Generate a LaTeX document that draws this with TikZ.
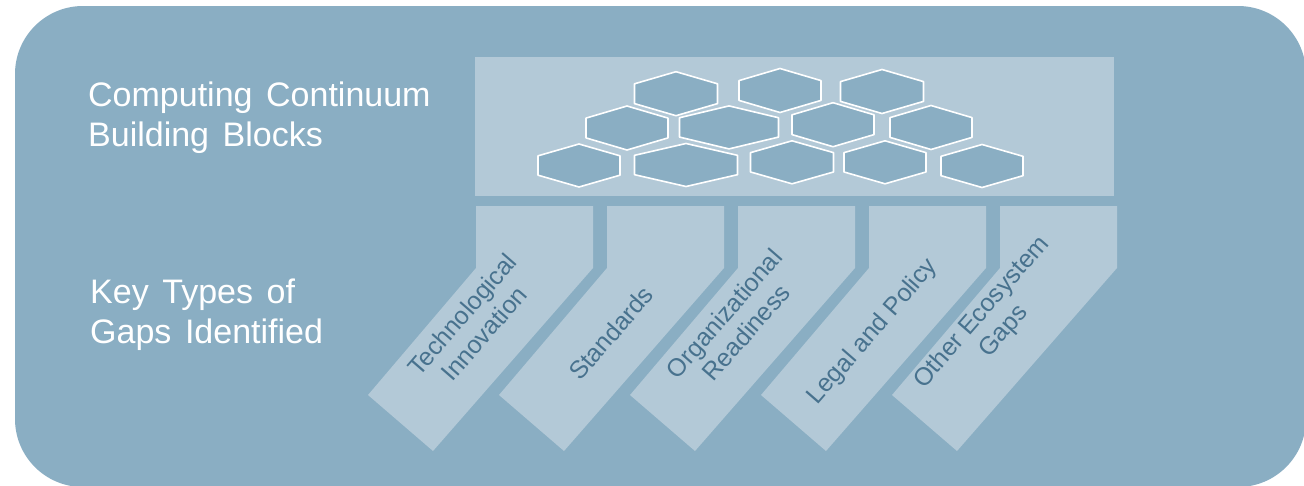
\documentclass[tikz,border=0pt]{standalone}
\usepackage{fontspec}
\setmainfont{Liberation Sans}
\definecolor{outerblue}{RGB}{138,174,195}
\definecolor{lightblue}{RGB}{179,201,215}
\definecolor{textblue}{RGB}{72,114,142}
\newcommand\widesp{\spaceskip=0.4em plus 0.1em\relax}
\newcommand\hexcell[4]{%
  \draw[hexstyle] (#1,{#2-#4/2}) -- ({#1+#3/2},{#2-0.225*#4}) -- ({#1+#3/2},{#2+0.225*#4})
    -- (#1,{#2+#4/2}) -- ({#1-#3/2},{#2+0.225*#4}) -- ({#1-#3/2},{#2-0.225*#4}) -- cycle;}
\begin{document}
\begin{tikzpicture}[x=1pt,y=-1pt,
  hexstyle/.style={fill=outerblue,draw=white,line width=1.6pt,line join=round},
  chev/.style={fill=lightblue},
  lefttext/.style={text=white,font=\fontsize{34}{40}\selectfont\widesp,align=left,inner sep=0,anchor=base west},
  chevtext/.style={text=textblue,font=\fontsize{25}{29}\selectfont,align=center,rotate=49,inner sep=0}]
\useasboundingbox (0,0) rectangle (1304,485);
\fill[white] (0,0) rectangle (1304,485);
\fill[outerblue,rounded corners=68pt] (15,6) rectangle (1306,487);
\node[fill=lightblue,minimum width=639pt,minimum height=139pt,inner sep=0,anchor=north west] (blocks) at (475,57) {};
\hexcell{676}{93.7}{83}{44}
\hexcell{780}{90.5}{82}{44}
\hexcell{882}{91.5}{83}{44}
\hexcell{627}{128}{82}{44}
\hexcell{729}{127.4}{99}{43}
\hexcell{833}{124.7}{82}{44}
\hexcell{931}{127.5}{82}{44}
\hexcell{579}{165.5}{82}{43}
\hexcell{686}{165}{103}{43}
\hexcell{792}{162.3}{83}{43}
\hexcell{885}{162.3}{82}{43}
\hexcell{982}{166}{82}{43}
\foreach \i in {0,...,4}{
  \pgfmathsetmacro\xo{476+131*\i}
  \fill[chev] (\xo,206) -- ({\xo+117},206) -- ({\xo+117},268) -- ({\xo-43},451)
    -- ({\xo-108},395) -- (\xo,268) -- cycle;
}
\node[lefttext] (cc) at (88,146) {Computing Continuum\\Building Blocks};
\node[lefttext] (kt) at (90,343) {Key Types of\\Gaps Identified};
\node[chevtext] (g1) at (473,324) {Technological\\Innovation};
\node[chevtext] (g2) at (611,333) {Standards};
\node[chevtext] (g3) at (735,323) {Organizational\\Readiness};
\node[chevtext] (g4) at (873,332) {Legal and Policy};
\node[chevtext] (g5) at (993,322) {Other Ecosystem\\Gaps};
\end{tikzpicture}
\end{document}
